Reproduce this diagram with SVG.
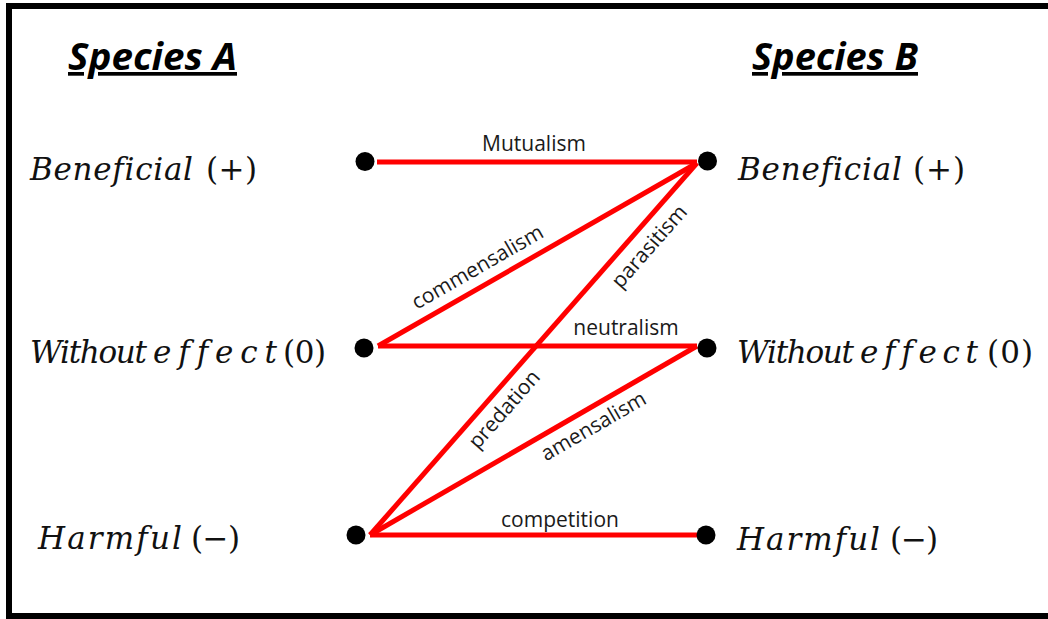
<svg xmlns="http://www.w3.org/2000/svg" width="1048" height="619" viewBox="0 0 1048 619">
<style>
.title{font-family:"Open Sans","Liberation Sans",sans-serif;font-weight:bold;font-style:italic;font-size:37px;fill:#000;text-decoration:underline}
.mi{font-family:"DejaVu Serif","Liberation Serif",serif;font-style:italic;font-size:31px;fill:#111;font-variant-ligatures:none}
.mn{font-family:"DejaVu Serif","Liberation Serif",serif;font-size:31px;fill:#111}
.lbl{font-family:"Open Sans","Liberation Sans",sans-serif;font-size:21px;fill:#1a1a1a;text-anchor:middle}
.con{stroke:#ff0000;stroke-width:5;fill:none;stroke-linecap:butt}
.dot{fill:#000}
</style>
<rect x="0" y="0" width="1048" height="619" fill="#fff"/>
<rect x="9" y="6" width="1060" height="610" fill="none" stroke="#000" stroke-width="6"/>

<g id="headerA"><text class="title" x="68" y="70" textLength="169" lengthAdjust="spacingAndGlyphs">Species A</text></g>
<g id="headerB"><text class="title" x="752" y="70" textLength="166" lengthAdjust="spacingAndGlyphs">Species B</text></g>

<g id="connectors">
<line class="con" x1="377" y1="162" x2="697" y2="162"/>
<line class="con" x1="378" y1="346" x2="697" y2="163"/>
<line class="con" x1="378" y1="346" x2="697" y2="346"/>
<line class="con" x1="697" y1="163" x2="370" y2="535"/>
<line class="con" x1="370" y1="535" x2="697" y2="346"/>
<line class="con" x1="370" y1="535" x2="697" y2="535"/>
<text class="lbl" x="534" y="151">Mutualism</text>
<text class="lbl" x="626" y="335">neutralism</text>
<text class="lbl" x="560" y="527">competition</text>
<text class="lbl" transform="translate(478,268) rotate(-29.9)" x="0" y="6">commensalism</text>
<text class="lbl" transform="translate(650,247) rotate(-48.7)" x="0" y="6">parasitism</text>
<text class="lbl" transform="translate(505,410) rotate(-48.7)" x="0" y="6">predation</text>
<text class="lbl" transform="translate(594,427) rotate(-30)" x="0" y="6">amensalism</text>
</g>

<g id="A-beneficial">
<circle class="dot" cx="365" cy="161.5" r="9.5"/>
<text class="mi" x="30" y="180" textLength="163" lengthAdjust="spacing">Beneficial</text>
<text class="mn" x="206" y="180" textLength="51" lengthAdjust="spacing">(+)</text>
</g>
<g id="A-without">
<circle class="dot" cx="364" cy="348" r="9.5"/>
<text class="mi" x="30" y="363" textLength="117" lengthAdjust="spacing">Without</text>
<text class="mi" x="153" y="363" textLength="124" lengthAdjust="spacing">effect</text>
<text class="mn" x="283" y="363" textLength="43" lengthAdjust="spacing">(0)</text>
</g>
<g id="A-harmful">
<circle class="dot" cx="356" cy="535" r="9.5"/>
<text class="mi" x="38" y="549" textLength="144" lengthAdjust="spacing">Harmful</text>
<text class="mn" x="191" y="549" textLength="49" lengthAdjust="spacing">(−)</text>
</g>
<g id="B-beneficial">
<circle class="dot" cx="707.5" cy="161" r="9.5"/>
<text class="mi" x="738" y="180" textLength="164" lengthAdjust="spacing">Beneficial</text>
<text class="mn" x="913" y="180" textLength="52" lengthAdjust="spacing">(+)</text>
</g>
<g id="B-without">
<circle class="dot" cx="707" cy="348" r="9.5"/>
<text class="mi" x="737" y="363" textLength="117" lengthAdjust="spacing">Without</text>
<text class="mi" x="860" y="363" textLength="118" lengthAdjust="spacing">effect</text>
<text class="mn" x="987" y="363" textLength="46" lengthAdjust="spacing">(0)</text>
</g>
<g id="B-harmful">
<circle class="dot" cx="706" cy="535" r="9.5"/>
<text class="mi" x="737" y="550" textLength="143" lengthAdjust="spacing">Harmful</text>
<text class="mn" x="890" y="550" textLength="48" lengthAdjust="spacing">(−)</text>
</g>
</svg>
